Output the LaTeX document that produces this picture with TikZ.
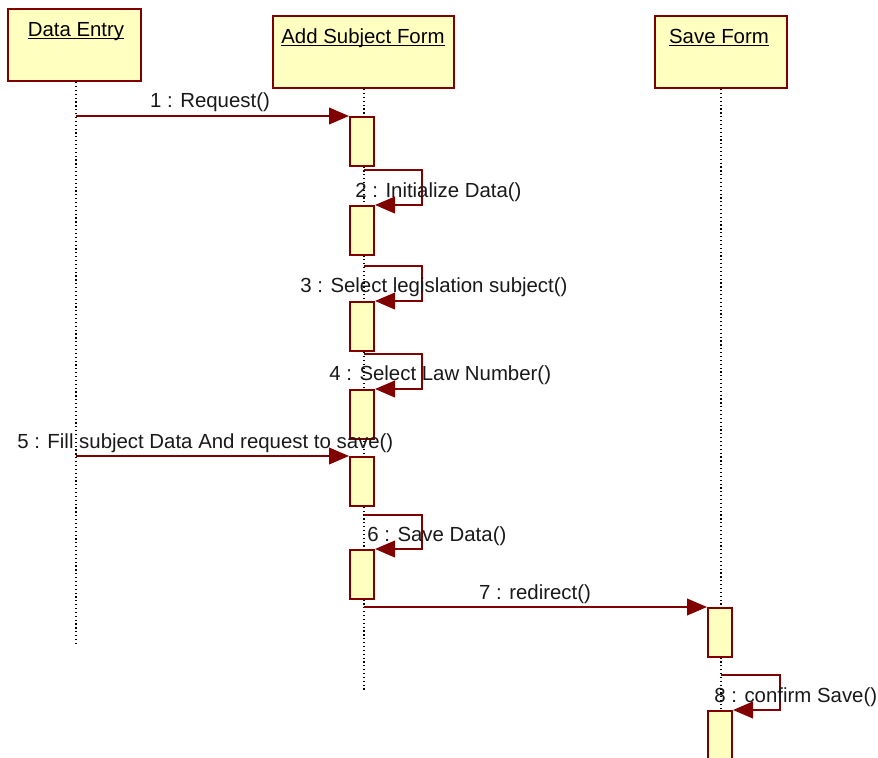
\documentclass[tikz,border=0pt]{standalone}
\usepackage{fontspec}
\setmainfont{Liberation Sans}
\usetikzlibrary{arrows.meta}
\definecolor{umlred}{HTML}{800000}
\definecolor{umlfill}{HTML}{FFFFC0}
\newcommand{\ulttl}[1]{\underline{\smash{#1}}}
\begin{document}
\begin{tikzpicture}[x=0.75pt,y=-0.75pt,
  font=\fontsize{15.3}{18}\selectfont,
  obj/.style={draw=umlred, fill=umlfill, line width=1.6pt, inner sep=0pt, anchor=north west},
  act/.style={draw=umlred, fill=umlfill, line width=1.5pt, inner sep=0pt, anchor=north,
              minimum width=18pt, minimum height=36.75pt},
  msg/.style={draw=umlred, line width=1.4pt, -{Triangle[length=15pt,width=12.5pt]}},
  life/.style={draw=black, dotted, line width=0.9pt},
  ttl/.style={inner sep=0pt, text=black},
  lbl/.style={inner sep=0pt, anchor=west, text=black!90}]
\useasboundingbox (0,0) rectangle (878,757);
% objects
\node[obj, minimum width=99.75pt, minimum height=54pt] (de) at (7,8) {};
\node[obj, minimum width=135.75pt, minimum height=54pt] (asf) at (272,15) {};
\node[obj, minimum width=99pt, minimum height=54pt] (sf) at (654,15) {};
\node[ttl] (deT) at (76,38) {\ulttl{Data Entry}};
\node[ttl] (asfT) at (363,45) {\ulttl{Add Subject Form}};
\node[ttl] (sfT) at (719,45) {\ulttl{Save Form}};
% lifelines
\coordinate (deEnd) at (76,645);
\coordinate (asfEnd) at (364,692);
\coordinate (sfEnd) at (721,760);
\draw[life] (de.south -| deEnd) -- (deEnd);
\draw[life] (asf.south -| asfEnd) -- (asfEnd);
\draw[life] (sf.south -| sfEnd) -- (sfEnd);
% activations
\node[act] (a1) at (362,116) {};
\node[act] (a2) at (362,205) {};
\node[act] (a3) at (362,301) {};
\node[act] (a4) at (362,389) {};
\node[act] (a5) at (362,456) {};
\node[act] (a6) at (362,549) {};
\node[act] (b1) at (720,607) {};
\node[act] (b2) at (720,710) {};
% messages
\draw[msg] (a1.north west -| deEnd) -- (a1.north west);
\draw[msg] (a1.south -| asfEnd) ++(0,3) -- ++(58,0) |- (a2.north east);
\draw[msg] (a2.south -| asfEnd) ++(0,10) -- ++(58,0) |- (a3.north east);
\draw[msg] (a3.south -| asfEnd) ++(0,2) -- ++(58,0) |- (a4.north east);
\draw[msg] (a5.north west -| deEnd) -- (a5.north west);
\draw[msg] (a5.south -| asfEnd) ++(0,8) -- ++(58,0) |- (a6.north east);
\draw[msg] (b1.north west -| asfEnd) -- (b1.north west);
\draw[msg] (b1.south -| sfEnd) ++(0,17) -- ++(59,0) |- (b2.north east);
% labels
\node[lbl, anchor=center] (l1) at (210,102) {1 : Request()};
\node[lbl] (l2) at (355,192) {2 : Initialize Data()};
\node[lbl] (l3) at (300,287) {3 : Select legislation subject()};
\node[lbl] (l4) at (329,375) {4 : Select Law Number()};
\node[lbl] (l5) at (17,443) {5 : Fill subject Data And request to save()};
\node[lbl] (l6) at (367,536) {6 : Save Data()};
\node[lbl, anchor=center] (l7) at (535,594) {7 : redirect()};
\node[lbl] (l8) at (714,697) {8 : confirm Save()};
\end{tikzpicture}
\end{document}
